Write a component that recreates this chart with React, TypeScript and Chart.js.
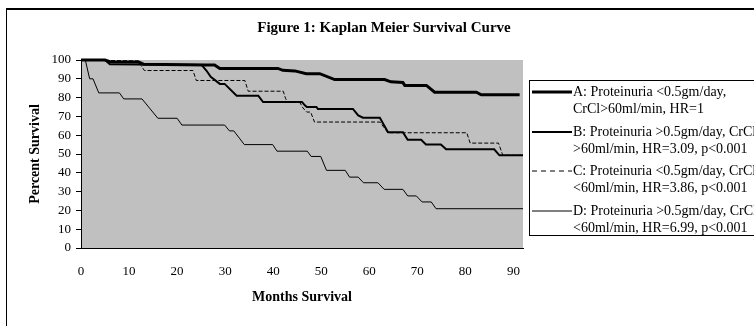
import React, { useEffect, useRef } from "react";
import { Chart, registerables } from "chart.js";

Chart.register(...registerables);

const chartTitle = "Figure 1: Kaplan Meier Survival Curve";
const xAxisTitle = "Months Survival";
const yAxisTitle = "Percent Survival";

const legendLines: string[][] = [
  ["A: Proteinuria <0.5gm/day,", "CrCl>60ml/min, HR=1"],
  ["B: Proteinuria >0.5gm/day, CrCl", ">60ml/min, HR=3.09, p<0.001"],
  ["C: Proteinuria <0.5gm/day, CrCl", "<60ml/min, HR=3.86, p<0.001"],
  ["D: Proteinuria >0.5gm/day, CrCl", "<60ml/min, HR=6.99, p<0.001"],
];

// months / percent survival pairs for each group
const monthsA = [0, 5, 6.3, 12, 13, 26, 27.8, 28.9, 41, 42, 44.5, 46.9, 49.7, 52.8, 63.2, 64.5, 67, 67.4, 71.9, 73.6, 82.3, 83.3, 91.3];
const survA = [100, 100, 98.9, 98.9, 97.8, 97.4, 97.4, 95.5, 95.5, 94.5, 94.2, 92.7, 92.7, 89.6, 89.6, 88.4, 88, 86.5, 86.5, 82.9, 82.9, 81.5, 81.5];

const monthsB = [0, 5, 6, 25.1, 26.1, 27, 28.9, 29.9, 32.4, 36.9, 37.9, 46, 46.6, 47, 49, 49.3, 56.6, 57.7, 58.7, 62.2, 63.9, 67, 68, 70.8, 71.8, 74.9, 76, 86, 87.1, 92];
const survB = [100, 100, 97.8, 97.4, 94.4, 91, 87.3, 87.3, 81, 81, 77.6, 77.6, 75.9, 75, 75, 74, 74, 70.5, 69.3, 69.3, 61.6, 61.6, 57.6, 57.6, 55.1, 55.1, 52.5, 52.5, 49.3, 49.3];

const monthsC = [0, 12, 12.5, 13.2, 23.3, 24, 34.1, 34.8, 42.1, 42.6, 43, 45.5, 46.2, 47, 47.8, 48.6, 62.2, 63.9, 80.3, 81, 86.9, 87.8, 92];
const survC = [100, 99.5, 97, 94.4, 94.4, 89.1, 89.1, 83.4, 83.4, 79.4, 77.6, 77.6, 74.5, 72.3, 72.3, 67, 67, 61.3, 61.3, 55.8, 55.8, 49.3, 49.3];

const monthsD = [0, 0.9, 1.8, 2.5, 3.7, 8, 8.9, 12.7, 16, 20, 21, 29.9, 30.9, 31.8, 34, 39.9, 40.8, 47.1, 47.9, 49.9, 51.1, 55, 55.9, 57.7, 58.8, 61.8, 63.1, 67, 68, 69.8, 71, 72.9, 73.9, 92];
const survD = [100, 100, 90, 90, 82.5, 82.5, 79.3, 79.3, 69, 69, 65.4, 65.4, 62.3, 62.3, 55, 55, 51.5, 51.5, 48.7, 48.7, 41.3, 41.3, 37.7, 37.7, 34.7, 34.7, 31.2, 31.2, 27.7, 27.7, 24.5, 24.5, 20.9, 20.9];

const xMax = 92;
const yTicks = [0, 10, 20, 30, 40, 50, 60, 70, 80, 90, 100];
const xTicks = [0, 10, 20, 30, 40, 50, 60, 70, 80, 90];

const SERIF = "'Liberation Serif', 'Times New Roman', serif";

const toPoints = (xs: number[], ys: number[]) => xs.map((x, i) => ({ x, y: ys[i] }));

const decorPlugin = {
  id: "decor",
  beforeDraw(chart: any) {
    const { ctx, chartArea } = chart;
    ctx.save();
    ctx.fillStyle = "#ffffff";
    ctx.fillRect(0, 0, chart.width, chart.height);
    ctx.fillStyle = "#c0c0c0";
    ctx.fillRect(chartArea.left, chartArea.top, chartArea.right - chartArea.left, chartArea.bottom - chartArea.top);
    ctx.restore();
  },
  afterDraw(chart: any) {
    const { ctx, chartArea } = chart;
    ctx.save();
    // outer frame
    ctx.strokeStyle = "#000";
    ctx.lineWidth = 2;
    ctx.beginPath();
    ctx.moveTo(6, 9);
    ctx.lineTo(800, 9);
    ctx.stroke();
    ctx.lineWidth = 1;
    ctx.beginPath();
    ctx.moveTo(6.5, 9);
    ctx.lineTo(6.5, 400);
    ctx.stroke();

    // title
    ctx.fillStyle = "#000";
    ctx.font = `bold 15px ${SERIF}`;
    ctx.textAlign = "center";
    ctx.textBaseline = "middle";
    ctx.fillText(chartTitle, 384, 28);

    // axis titles
    ctx.font = `bold 14px ${SERIF}`;
    ctx.fillText(xAxisTitle, 302, 297);
    ctx.save();
    ctx.translate(35, (chartArea.top + chartArea.bottom) / 2);
    ctx.rotate(-Math.PI / 2);
    ctx.fillText(yAxisTitle, 0, 0);
    ctx.restore();

    // legend
    ctx.lineWidth = 1;
    ctx.strokeRect(529.5, 80.5, 400, 155);
    const rowsY = [92, 132, 171, 211];
    const widths = [3, 2, 1, 1];
    const dashes = [[], [], [5, 4], []];
    ctx.font = `14px ${SERIF}`;
    ctx.textAlign = "left";
    rowsY.forEach((y, i) => {
      ctx.beginPath();
      ctx.lineWidth = widths[i];
      ctx.setLineDash(dashes[i]);
      ctx.moveTo(532, y);
      ctx.lineTo(572, y);
      ctx.stroke();
      ctx.setLineDash([]);
      ctx.fillText(legendLines[i][0], 573, y);
      ctx.fillText(legendLines[i][1], 573, y + 17);
    });
    ctx.restore();
  },
};

export default function App() {
  const ref = useRef<HTMLCanvasElement | null>(null);

  useEffect(() => {
    document.body.style.margin = "0";
    if (!ref.current) return;
    const chart = new Chart(ref.current, {
      type: "line",
      data: {
        datasets: [
          { label: "A", data: toPoints(monthsA, survA), borderColor: "#000", borderWidth: 3, pointRadius: 0, tension: 0, order: 4, clip: 4 } as any,
          { label: "B", data: toPoints(monthsB, survB), borderColor: "#000", borderWidth: 2, pointRadius: 0, tension: 0, order: 3, clip: 4 } as any,
          { label: "C", data: toPoints(monthsC, survC), borderColor: "#000", borderWidth: 1, borderDash: [4, 2], pointRadius: 0, tension: 0, order: 2, clip: 4 } as any,
          { label: "D", data: toPoints(monthsD, survD), borderColor: "#000", borderWidth: 1, pointRadius: 0, tension: 0, order: 1, clip: 4 } as any,
        ],
      },
      options: {
        animation: false,
        responsive: true,
        maintainAspectRatio: false,
        layout: { padding: { left: 0, top: 60, right: 231, bottom: 0 } },
        plugins: { legend: { display: false }, tooltip: { enabled: false }, title: { display: false } },
        scales: {
          x: {
            type: "linear",
            min: 0,
            max: xMax,
            afterBuildTicks: (scale: any) => {
              scale.ticks = xTicks.map((v) => ({ value: v }));
            },
            afterFit: (scale: any) => {
              scale.height = 78;
            },
            ticks: { color: "#000", font: { family: SERIF, size: 13 }, padding: 16, maxRotation: 0, autoSkip: false },
            grid: { display: true, drawOnChartArea: false, drawTicks: false, color: "#000" },
            border: { display: true, color: "#000", width: 1 },
          },
          y: {
            type: "linear",
            min: 0,
            max: 100,
            afterBuildTicks: (scale: any) => {
              scale.ticks = yTicks.map((v) => ({ value: v }));
            },
            afterFit: (scale: any) => {
              scale.width = 81;
            },
            ticks: { color: "#000", font: { family: SERIF, size: 13 }, padding: 5, autoSkip: false },
            grid: { display: true, drawOnChartArea: false, drawTicks: true, tickLength: 5, color: "#000" },
            border: { display: true, color: "#000", width: 1 },
          },
        },
      },
      plugins: [decorPlugin],
    });
    return () => chart.destroy();
  }, []);

  return (
    <div style={{ width: 754, height: 326, position: "relative" }}>
      <canvas ref={ref} />
    </div>
  );
}
